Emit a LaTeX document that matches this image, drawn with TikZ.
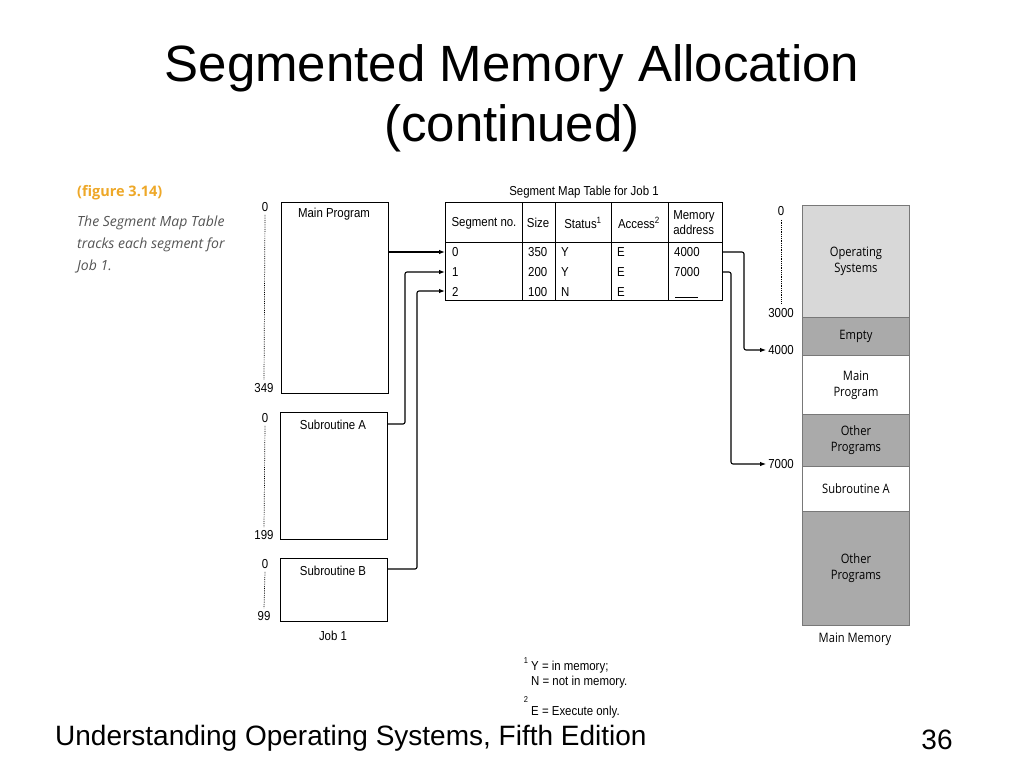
\documentclass[tikz,border=0pt]{standalone}
\usepackage{fontspec}
\setmainfont{Liberation Sans}
\newfontfamily\narrowfont[FakeStretch=0.88]{Liberation Sans}
\newfontfamily\capfont{Open Sans}
\newfontfamily\memfont[FakeStretch=0.86]{Open Sans}
\usetikzlibrary{arrows.meta,positioning}
\definecolor{osgray}{RGB}{216,216,216}
\definecolor{usedgray}{RGB}{170,170,170}
\definecolor{edgegray}{RGB}{120,120,120}
\definecolor{figorange}{RGB}{238,168,40}
\definecolor{capgray}{RGB}{85,85,85}

\tikzset{
  jobbox/.style={draw, line width=0.9pt, anchor=north west, inner sep=0pt, minimum width=107pt},
  lbl/.style={font=\narrowfont\fontsize{13}{15}\selectfont, inner sep=0pt},
  memcell/.style={draw=edgegray, line width=0.9pt, anchor=north west, inner sep=0pt, minimum width=107pt,
    align=center, font=\memfont\fontsize{13}{16}\selectfont},
  link/.style={line width=1.1pt, rounded corners=2pt, -{Latex[length=6pt,width=4.5pt]}},
  offset/.style={dash pattern=on 0.8pt off 1pt, line width=0.7pt}
}

\begin{document}
\begin{tikzpicture}[x=1pt,y=-1pt]
\useasboundingbox[fill=white] (0,0) rectangle (1024,768);

% title and footer
\node[font=\fontsize{51}{60}\selectfont, align=center, inner sep=0pt] (title) at (512,98) {Segmented Memory Allocation\\(continued)};
\node[font=\fontsize{28}{32}\selectfont, anchor=west, inner sep=0pt] (book) at (55,738) {Understanding Operating Systems, Fifth Edition};
\node[font=\fontsize{28}{32}\selectfont, inner sep=0pt] (pageno) at (937,740) {36};

% figure caption
\node[font=\capfont\bfseries\fontsize{14.5}{16}\selectfont, text=figorange, anchor=west, inner sep=0pt] (fig) at (77,193) {(figure 3.14)};
\node[font=\capfont\itshape\fontsize{14}{22}\selectfont, text=capgray, anchor=north west, align=left, inner sep=0pt] (figtext) at (77,216)
  {The Segment Map Table\\tracks each segment for\\Job 1.};

% job 1 segments
\node[jobbox, minimum height=191pt] (main) at (281,202) {};
\node[jobbox, minimum height=127pt] (subA) at (280,412) {};
\node[jobbox, minimum height=63pt] (subB) at (280,558) {};
\node[lbl] at (334,214) {Main Program};
\node[lbl] at (333,425) {Subroutine A};
\node[lbl] at (333,571) {Subroutine B};
\node[lbl] (job) at (333,636) {Job 1};

\node[lbl] (m0) at (265,207) {0};
\node[lbl] (m349) at (264,388) {349};
\node[lbl] (a0) at (265,418) {0};
\node[lbl] (a199) at (264,535) {199};
\node[lbl] (b0) at (265,564) {0};
\node[lbl] (b99) at (264,616) {99};
\draw[offset] ([yshift=-3pt]m0.south) -- ([yshift=3pt]m349.north);
\draw[offset] ([yshift=-3pt]a0.south) -- ([yshift=3pt]a199.north);
\draw[offset] ([yshift=-3pt]b0.south) -- ([yshift=3pt]b99.north);

% segment map table
\node[lbl] (smt) at (584,192) {Segment Map Table for Job 1};
\draw[line width=0.9pt] (445,202) rectangle (722,300);
\draw[line width=0.9pt] (445,242) -- (722,242);
\foreach \cx in {522,555,611,668} \draw[line width=0.9pt] (\cx,202) -- (\cx,300);
\node[lbl] at (484,223) {Segment no.};
\node[lbl] at (538,223) {Size};
\node[lbl] at (583,223) {Status\textsuperscript{1}};
\node[lbl] at (639,223) {Access\textsuperscript{2}};
\node[lbl, align=left] at (694,223) {Memory\\address};
\foreach \r/\sz/\st/\ad [count=\i from 0] in {0/350/Y/4000, 1/200/Y/7000, 2/100/N/{}} {
  \node[lbl, anchor=west] at (452,252+20*\i) {\r};
  \node[lbl, anchor=west] at (528,252+20*\i) {\sz};
  \node[lbl, anchor=west] at (561,252+20*\i) {\st};
  \node[lbl, anchor=west] at (617,252+20*\i) {E};
  \node[lbl, anchor=west] at (674,252+20*\i) {\ad};
}
\draw[line width=0.6pt] (675,297) -- (698,297);
\coordinate (row0) at (445,252);
\coordinate (row1) at (445,272);
\coordinate (row2) at (445,291);
\coordinate (addr0) at (722,252);
\coordinate (addr1) at (722,272);

% main memory
\node[memcell, fill=osgray, minimum height=112pt] (os) at (802,205) {};
\node[memcell, fill=usedgray, minimum height=38pt] (empty) at (802,317) {Empty};
\node[memcell, fill=white, minimum height=59pt] (mainmem) at (802,355) {Main\\Program};
\node[memcell, fill=usedgray, minimum height=52pt] (other1) at (802,414) {Other\\Programs};
\node[memcell, fill=white, minimum height=45pt] (subAmem) at (802,466) {Subroutine A};
\node[memcell, fill=usedgray, minimum height=114pt] (other2) at (802,511) {Other\\Programs};
\node[align=center, font=\memfont\fontsize{13}{16}\selectfont] at (os.center) {Operating\\Systems};
\node[font=\memfont\fontsize{13}{15}\selectfont, inner sep=0pt] (mm) at (855,639) {Main Memory};

\node[lbl] (p0) at (781,211) {0};
\node[lbl] (p3000) at (781,313) {3000};
\node[lbl] (p4000) at (781,350) {4000};
\node[lbl] (p7000) at (781,464) {7000};
\draw[offset] ([yshift=-4pt]p0.south) -- ([yshift=4pt]p3000.north);

% connectors
\draw[link] (main.east |- row0) -- (row0);
\draw[link] ([yshift=-12pt]subA.north east) -| (405,272) -- (row1);
\draw[link] ([yshift=-11pt]subB.north east) -| (417,291) -- (row2);
\draw[link] (addr0) -| (744,350) -- ([xshift=-2pt]p4000.west);
\draw[link] (addr1) -| (731,464) -- ([xshift=-2pt]p7000.west);

% footnotes
\node[lbl, font=\narrowfont\fontsize{8.5}{9}\selectfont] (fn1) at (526,661) {1};
\node[lbl, anchor=west, align=left] (fn1t) at (531,675) {Y = in memory;\\N = not in memory.};
\node[lbl, font=\narrowfont\fontsize{8.5}{9}\selectfont] (fn2) at (526,700) {2};
\node[lbl, anchor=west] (fn2t) at (531,712) {E = Execute only.};
\end{tikzpicture}
\end{document}
